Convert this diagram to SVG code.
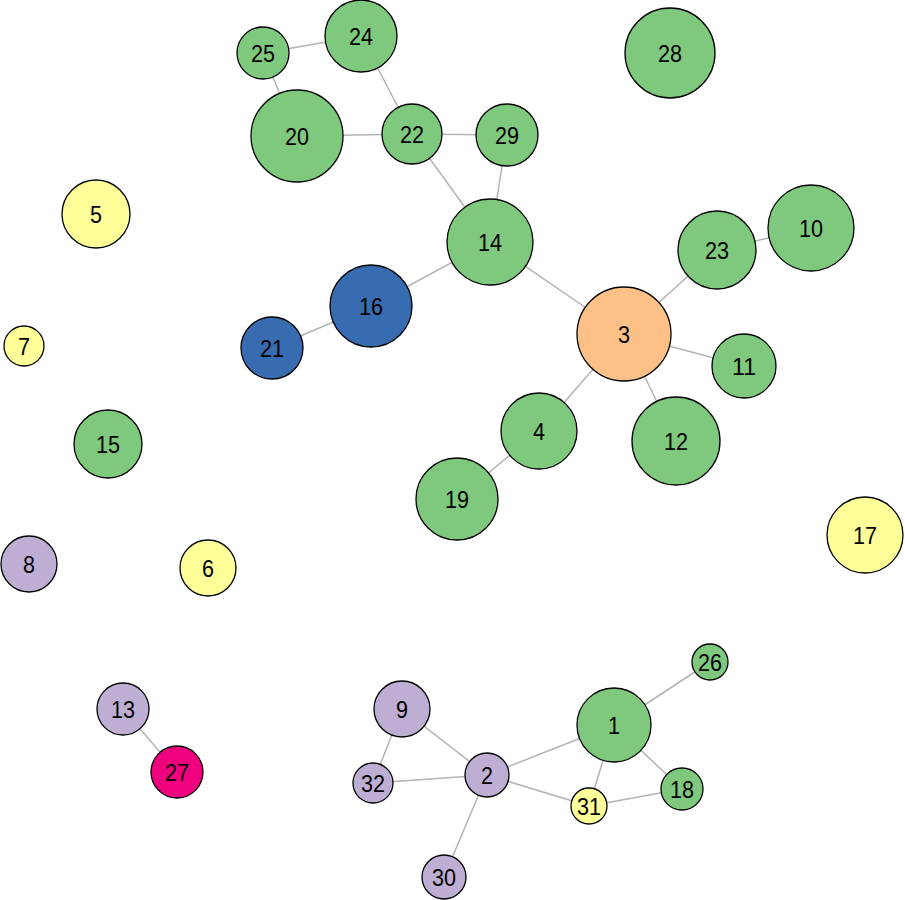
<svg xmlns="http://www.w3.org/2000/svg" width="905" height="900" viewBox="0 0 905 900">
<style>
.e{stroke:#b3b3b3;stroke-width:1.5;fill:none}
circle{stroke:#000;stroke-width:1.3}
.g{fill:#7FC97F}.p{fill:#BEAED4}.o{fill:#FDC086}.y{fill:#FFFF99}.b{fill:#386CB0}.m{fill:#F0027F}
text{font-family:"Liberation Sans",Arial,sans-serif;font-size:24px;text-anchor:middle;dominant-baseline:central;fill:#000}
</style>
<rect width="905" height="900" fill="#fff"/>
<g id="edges">
<line class="e" x1="263" y1="53" x2="361" y2="36"/>
<line class="e" x1="263" y1="53" x2="297" y2="136"/>
<line class="e" x1="361" y1="36" x2="412" y2="134"/>
<line class="e" x1="297" y1="136" x2="412" y2="134"/>
<line class="e" x1="412" y1="134" x2="507" y2="135"/>
<line class="e" x1="412" y1="134" x2="490" y2="242"/>
<line class="e" x1="507" y1="135" x2="490" y2="242"/>
<line class="e" x1="490" y1="242" x2="371" y2="306"/>
<line class="e" x1="490" y1="242" x2="624" y2="334"/>
<line class="e" x1="371" y1="306" x2="272" y2="348"/>
<line class="e" x1="624" y1="334" x2="717" y2="250"/>
<line class="e" x1="717" y1="250" x2="811" y2="228"/>
<line class="e" x1="624" y1="334" x2="744" y2="366"/>
<line class="e" x1="624" y1="334" x2="676" y2="441"/>
<line class="e" x1="624" y1="334" x2="539" y2="431"/>
<line class="e" x1="539" y1="431" x2="457" y2="499"/>
<line class="e" x1="123" y1="709" x2="177" y2="772"/>
<line class="e" x1="402" y1="709" x2="373" y2="783"/>
<line class="e" x1="402" y1="709" x2="487" y2="775"/>
<line class="e" x1="373" y1="783" x2="487" y2="775"/>
<line class="e" x1="487" y1="775" x2="614" y2="725"/>
<line class="e" x1="487" y1="775" x2="589" y2="806"/>
<line class="e" x1="487" y1="775" x2="444" y2="877"/>
<line class="e" x1="614" y1="725" x2="710" y2="662"/>
<line class="e" x1="614" y1="725" x2="589" y2="806"/>
<line class="e" x1="614" y1="725" x2="682" y2="789"/>
<line class="e" x1="589" y1="806" x2="682" y2="789"/>
</g>
<g id="n25"><circle class="g" cx="263" cy="53" r="26"/><text x="263" y="53" textLength="24" lengthAdjust="spacingAndGlyphs">25</text></g>
<g id="n24"><circle class="g" cx="361" cy="36" r="36"/><text x="361" y="36" textLength="24" lengthAdjust="spacingAndGlyphs">24</text></g>
<g id="n20"><circle class="g" cx="297" cy="136" r="46"/><text x="297" y="136" textLength="24" lengthAdjust="spacingAndGlyphs">20</text></g>
<g id="n22"><circle class="g" cx="412" cy="134" r="30"/><text x="412" y="134" textLength="24" lengthAdjust="spacingAndGlyphs">22</text></g>
<g id="n29"><circle class="g" cx="507" cy="135" r="31"/><text x="507" y="135" textLength="24" lengthAdjust="spacingAndGlyphs">29</text></g>
<g id="n28"><circle class="g" cx="670" cy="53" r="45"/><text x="670" y="53" textLength="24" lengthAdjust="spacingAndGlyphs">28</text></g>
<g id="n5"><circle class="y" cx="96" cy="214" r="34"/><text x="96" y="214" textLength="12" lengthAdjust="spacingAndGlyphs">5</text></g>
<g id="n14"><circle class="g" cx="490" cy="242" r="43"/><text x="490" y="242" textLength="24" lengthAdjust="spacingAndGlyphs">14</text></g>
<g id="n23"><circle class="g" cx="717" cy="250" r="39"/><text x="717" y="250" textLength="24" lengthAdjust="spacingAndGlyphs">23</text></g>
<g id="n10"><circle class="g" cx="811" cy="228" r="43"/><text x="811" y="228" textLength="24" lengthAdjust="spacingAndGlyphs">10</text></g>
<g id="n16"><circle class="b" cx="371" cy="306" r="41"/><text x="371" y="306" textLength="24" lengthAdjust="spacingAndGlyphs">16</text></g>
<g id="n21"><circle class="b" cx="272" cy="348" r="31"/><text x="272" y="348" textLength="24" lengthAdjust="spacingAndGlyphs">21</text></g>
<g id="n7"><circle class="y" cx="24" cy="346" r="20"/><text x="24" y="346" textLength="12" lengthAdjust="spacingAndGlyphs">7</text></g>
<g id="n3"><circle class="o" cx="624" cy="334" r="47"/><text x="624" y="334" textLength="12" lengthAdjust="spacingAndGlyphs">3</text></g>
<g id="n11"><circle class="g" cx="744" cy="366" r="32"/><text x="744" y="366" textLength="24" lengthAdjust="spacingAndGlyphs">11</text></g>
<g id="n4"><circle class="g" cx="539" cy="431" r="38"/><text x="539" y="431" textLength="12" lengthAdjust="spacingAndGlyphs">4</text></g>
<g id="n12"><circle class="g" cx="676" cy="441" r="44"/><text x="676" y="441" textLength="24" lengthAdjust="spacingAndGlyphs">12</text></g>
<g id="n15"><circle class="g" cx="108" cy="444" r="34"/><text x="108" y="444" textLength="24" lengthAdjust="spacingAndGlyphs">15</text></g>
<g id="n19"><circle class="g" cx="457" cy="499" r="41"/><text x="457" y="499" textLength="24" lengthAdjust="spacingAndGlyphs">19</text></g>
<g id="n17"><circle class="y" cx="865" cy="535" r="38"/><text x="865" y="535" textLength="24" lengthAdjust="spacingAndGlyphs">17</text></g>
<g id="n8"><circle class="p" cx="29" cy="564" r="28"/><text x="29" y="564" textLength="12" lengthAdjust="spacingAndGlyphs">8</text></g>
<g id="n6"><circle class="y" cx="208" cy="568" r="28"/><text x="208" y="568" textLength="12" lengthAdjust="spacingAndGlyphs">6</text></g>
<g id="n26"><circle class="g" cx="710" cy="662" r="18"/><text x="710" y="662" textLength="24" lengthAdjust="spacingAndGlyphs">26</text></g>
<g id="n13"><circle class="p" cx="123" cy="709" r="26"/><text x="123" y="709" textLength="24" lengthAdjust="spacingAndGlyphs">13</text></g>
<g id="n9"><circle class="p" cx="402" cy="709" r="28"/><text x="402" y="709" textLength="12" lengthAdjust="spacingAndGlyphs">9</text></g>
<g id="n1"><circle class="g" cx="614" cy="725" r="37"/><text x="614" y="725" textLength="12" lengthAdjust="spacingAndGlyphs">1</text></g>
<g id="n27"><circle class="m" cx="177" cy="772" r="26"/><text x="177" y="772" textLength="24" lengthAdjust="spacingAndGlyphs">27</text></g>
<g id="n32"><circle class="p" cx="373" cy="783" r="20"/><text x="373" y="783" textLength="24" lengthAdjust="spacingAndGlyphs">32</text></g>
<g id="n2"><circle class="p" cx="487" cy="775" r="22"/><text x="487" y="775" textLength="12" lengthAdjust="spacingAndGlyphs">2</text></g>
<g id="n18"><circle class="g" cx="682" cy="789" r="21"/><text x="682" y="789" textLength="24" lengthAdjust="spacingAndGlyphs">18</text></g>
<g id="n31"><circle class="y" cx="589" cy="806" r="18"/><text x="589" y="806" textLength="24" lengthAdjust="spacingAndGlyphs">31</text></g>
<g id="n30"><circle class="p" cx="444" cy="877" r="22"/><text x="444" y="877" textLength="24" lengthAdjust="spacingAndGlyphs">30</text></g>
</svg>
